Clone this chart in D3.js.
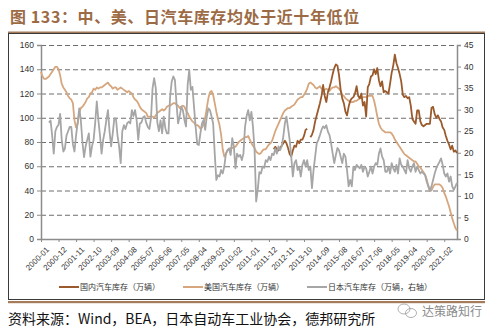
<!DOCTYPE html>
<html><head><meta charset="utf-8">
<script src="https://cdn.jsdelivr.net/npm/d3@7"></script>
<style>body{margin:0;background:#fff}svg{display:block}</style>
</head><body><svg id="c" width="498" height="334"></svg>
<script>
// ---- data ----
const startMonth = "2000-01";
const monthCount = 262; // 2000-01 .. 2021-10
const tickLabels = ["2000-01","2000-12","2001-11","2002-10","2003-09","2004-08","2005-07","2006-06","2007-05","2008-04","2009-03","2010-02","2011-01","2011-12","2012-11","2013-10","2014-09","2015-08","2016-07","2017-06","2018-05","2019-04","2020-03","2021-02"];
const leftTicks = [0,20,40,60,80,100,120,140,160];
const rightTicks = [0,5,10,15,20,25,30,35,40,45];
const seriesNames = ["国内汽车库存（万辆）","美国汽车库存（万辆）","日本汽车库存（万辆，右轴）"];

const usStart = "2000-01";
const usInventory = [
138,134,132,132,133,134,136,138,140,142,
142,140,135,128,125,123,121,118,116,115,
112,98,92,95,104,108,109,111,113,116,
117,120,121,124,123,125,124,125,125,126,
127,128,129,127,126,124,125,125,123,124,
125,124,123,122,121,122,121,120,117,115,
114,112,109,107,106,105,104,101,101,101,
101,100,102,104,105,106,107,106,107,109,
110,110,111,112,112,111,110,108,109,110,
109,106,104,101,99,97,96,94,94,93,
91,92,95,100,108,116,121,122,119,112,
105,99,94,86,74,68,70,73,74,75,
75,76,76,78,80,81,82,83,84,84,
85,82,79,77,75,72,71,70,71,73,
74,74,76,78,79,81,85,89,92,95,
98,101,104,106,107,108,108,109,110,111,
113,115,116,117,117,119,121,124,128,129,
128,127,125,124,125,126,124,123,123,124,
123,122,124,125,125,126,125,124,122,119,
118,116,115,114,113,113,113,114,114,115,
116,116,117,117,117,118,118,118,118,114,
108,101,95,92,90,89,88,88,88,88,
87,85,82,80,78,76,74,72,70,69,
68,67,66,65,64,64,62,60,59,57,
55,53,49,44,40,40,43,45,45,45,
45,44,42,38,35,31,27,22,17,13,
9,7];

const chinaStart = "2012-03";
const chinaInventory = [
74,76,74,73,75,77,79,81,79,75,
70,68,73,77,76,81,79,82,82,85,
90,91,null,84,86,90,97,102,107,112,
118,127,118,113,121,125,130,136,141,144,
143,135,123,116,112,105,102,109,114,116,
117,120,126,118,116,120,110,113,101,125,
128,134,135,140,136,141,131,126,130,121,
122,121,120,128,137,143,152,145,141,136,
130,119,117,118,116,117,110,99,97,95,
106,106,97,94,93,94,95,95,95,108,
109,103,100,102,99,97,92,90,85,81,
78,74,77,72,73,71];

const japanStart = "2000-06";
const japanInventory = [
27,27.5,24,19.8,25,
26,26.5,29,23,20.3,21,24,25,26,26,
22,20.3,24,27,30.3,27.5,22.5,19,21.5,23,
24.5,19.1,21.5,23,27,31.9,27.6,24,19.8,23,
25,27.5,29.9,25,21.5,24.5,28,28,24,21.5,
17.6,25,26.4,25.5,26.8,27.2,26.8,29.9,28.5,29.9,
27.6,23,26.8,27,28.2,28.5,27,26,25.5,28,
35,37.3,35,27,25,27.5,24.5,28.4,25.7,24.5,
24.5,33,36.5,37.7,36.9,31.5,26.8,28.4,30.7,29.9,
27.6,26.1,35.7,39.2,34.6,35.3,30.7,26.1,22,21.8,
24.5,26.8,27.6,25.3,28.4,30.3,29.9,28.4,26.8,19.8,
13.7,14.8,14.5,16,15.2,16.8,19.8,20.6,21,19.5,
23.4,21.5,16.4,19.8,19.1,19.5,18.3,19.8,26,28.5,
29.9,27.5,29.5,26,20.6,8.7,11.5,15.5,15.2,16.8,
16.5,18.3,17.9,19.1,18.3,19.8,19.5,21,19.8,21.5,
20.6,21.5,23.7,26.8,28.4,25.7,23,19.1,14.5,17.6,
18.3,16,16.8,14.5,17.2,18.3,16.8,18.3,16,16.8,
11.8,16,19.1,22.2,23,24.1,25.3,26.1,25.7,26.4,
24.9,24.1,22.2,19.8,17.6,19.5,21.1,20.6,19.1,17.6,
19.8,19.1,16,12.2,13.7,12.2,16.8,16,17.2,16.8,
16.4,17.2,15.6,16.8,16.4,14.5,15.6,16.8,15.2,16.8,
17.6,17.2,19.8,21,19.1,18.3,15.6,15.6,16.8,15.2,
17.6,16.4,15.6,17.2,15.2,18.7,17.2,16.8,16,15.2,
18.3,16.4,15.6,16.8,17.6,15.6,16.8,16,15.2,15.6,
15.2,14.8,13.3,12.2,11.1,12.2,13.7,15.2,16.4,17.2,
17.9,18.7,17.2,15.2,14.5,15.2,13.3,14.5,12.2,11.4,
12.2,13];

// ---- helpers ----
const monthIdx = s => { const [y,m] = s.split("-").map(Number); const [y0,m0] = startMonth.split("-").map(Number); return (y-y0)*12 + (m-m0); };
const toPoints = (arr, start) => arr.map((v,k) => ({i: monthIdx(start)+k, v}));

const svg = d3.select("#c");
const CJK = "'Noto Sans CJK SC','Noto Sans',sans-serif";
const LAT = "'Liberation Sans',Arial,sans-serif";

const L = 41, R = 457, T = 45, B = 239;
const x = d3.scaleLinear().domain([0, monthCount-1]).range([L, R]);
const yL = d3.scaleLinear().domain([0,160]).range([B, T]);
const yR = d3.scaleLinear().domain([0,45]).range([B, T]);

// title
svg.append("text").attr("x",10).attr("y",23).attr("font-family",CJK).attr("font-weight","bold")
  .attr("font-size",16).attr("letter-spacing",0.6).attr("fill","#9c6b45").text("图 133：中、美、日汽车库存均处于近十年低位");
svg.append("rect").attr("x",8).attr("y",31.5).attr("width",477).attr("height",2.2).attr("fill","#a57c5b");
// frame
svg.append("rect").attr("x",8.5).attr("y",33.5).attr("width",476).attr("height",266).attr("fill","none").attr("stroke","#3a3a3a").attr("stroke-width",1);
svg.append("rect").attr("x",8).attr("y",301).attr("width",477).attr("height",2.2).attr("fill","#a57c5b");

// gridlines
svg.append("g").selectAll("line").data(leftTicks.filter(v=>v>0)).join("line")
  .attr("x1",L).attr("x2",R).attr("y1",d=>yL(d)+0.5).attr("y2",d=>yL(d)+0.5)
  .attr("stroke","#6e6e6e").attr("stroke-width",1).attr("stroke-dasharray","5,3");

// axes
const axL = svg.append("g").attr("transform",`translate(${L},0)`)
  .call(d3.axisLeft(yL).tickValues(leftTicks).tickSize(4).tickPadding(3));
const axR = svg.append("g").attr("transform",`translate(${R},0)`)
  .call(d3.axisRight(yR).tickValues(rightTicks).tickSize(4).tickPadding(3));
const tickIdx = tickLabels.map(monthIdx);
const axB = svg.append("g").attr("transform",`translate(0,${B})`)
  .call(d3.axisBottom(x).tickValues(tickIdx).tickFormat((d,k)=>tickLabels[k]).tickSize(3).tickSizeOuter(0));
[axL,axR,axB].forEach(g=>{
  g.select(".domain").attr("stroke","#8c8c8c").attr("stroke-width",1.5);
  g.selectAll(".tick line").attr("stroke","#8c8c8c");
  g.selectAll("text").attr("font-family",LAT).attr("font-size",8.5).attr("fill","#333");
});
axB.selectAll(".tick text").attr("text-anchor","end").attr("dy","0.35em")
  .attr("transform","translate(2,5) rotate(-45)").attr("font-size",8);

// lines
const lineL = d3.line().defined(d=>d.v!=null).x(d=>x(d.i)).y(d=>yL(d.v));
const lineR = d3.line().defined(d=>d.v!=null).x(d=>x(d.i)).y(d=>yR(d.v));
const colors = ["#9b5a2b","#d6a77f","#a6a6a6"];
svg.append("path").datum(toPoints(usInventory,usStart)).attr("d",lineL).attr("fill","none").attr("stroke",colors[1]).attr("stroke-width",1.8).attr("stroke-linejoin","round");
svg.append("path").datum(toPoints(chinaInventory,chinaStart)).attr("d",lineL).attr("fill","none").attr("stroke",colors[0]).attr("stroke-width",1.8).attr("stroke-linejoin","round");
svg.append("path").datum(toPoints(japanInventory,japanStart)).attr("d",lineR).attr("fill","none").attr("stroke",colors[2]).attr("stroke-width",1.8).attr("stroke-linejoin","round");

// legend
const legX = [59,183,307];
const leg = svg.append("g").selectAll("g").data(seriesNames).join("g").attr("transform",(d,k)=>`translate(${legX[k]},287)`);
leg.append("line").attr("x1",0).attr("x2",20).attr("stroke",(d,k)=>colors[k]).attr("stroke-width",2);
leg.append("text").attr("x",21).attr("y",3).attr("font-family",CJK).attr("font-size",8).attr("fill","#333").text(d=>d);

// footer
svg.append("text").attr("x",8).attr("y",324).attr("font-family",CJK).attr("font-size",14).attr("fill","#111")
  .text("资料来源：Wind，BEA，日本自动车工业协会，德邦研究所");
// watermark
const wm = svg.append("g").attr("transform","translate(407,311)").attr("fill","none").attr("stroke","#9a9a9a").attr("stroke-width",0.8);
wm.append("ellipse").attr("cx",-3).attr("cy",-2).attr("rx",6).attr("ry",5);
wm.append("ellipse").attr("cx",4).attr("cy",2).attr("rx",5.5).attr("ry",4.5);
svg.append("text").attr("x",422).attr("y",316).attr("font-family",CJK).attr("font-size",12).attr("fill","#8a8a8a").text("达策路知行");
</script></body></html>
